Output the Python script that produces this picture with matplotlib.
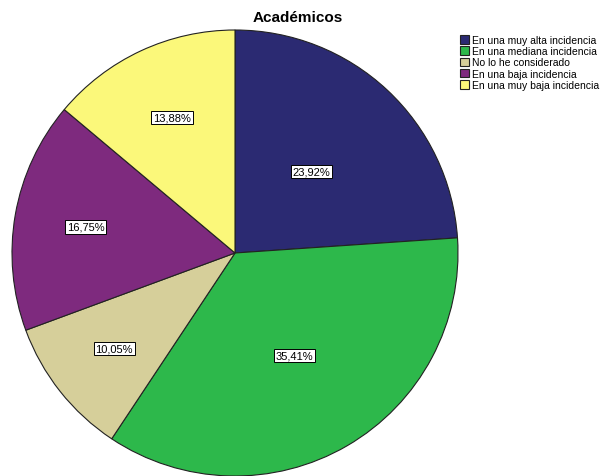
import numpy as np
import matplotlib.pyplot as plt

plt.rcParams['font.family'] = ['Liberation Sans', 'DejaVu Sans']

categorias = ['En una muy alta incidencia', 'En una mediana incidencia',
              'No lo he considerado', 'En una baja incidencia',
              'En una muy baja incidencia']
porcentajes = [23.92, 35.41, 10.05, 16.75, 13.88]
colores = ['#2b2a72', '#2db84b', '#d6cf9a', '#7e2a7e', '#fbf87a']
# distancia de cada etiqueta al centro (fraccion del radio)
dist_etiqueta = [0.50, 0.53, 0.69, 0.68, 0.67]

fig = plt.figure(figsize=(6.01, 4.77), dpi=100)
ax = fig.add_axes([0, 0, 1, 1])

cx, cy, r = 235, 477 - 254, 223
wedges, _ = ax.pie(porcentajes, colors=colores, startangle=90, counterclock=False,
                   center=(cx, cy), radius=r,
                   wedgeprops=dict(edgecolor='#222222', linewidth=0.8),
                   frame=True)

for w, p, d in zip(wedges, porcentajes, dist_etiqueta):
    ang = np.deg2rad((w.theta1 + w.theta2) / 2)
    ax.text(cx + d * r * np.cos(ang), cy + d * r * np.sin(ang),
            f'{p:.2f}'.replace('.', ',') + '%', fontsize=8, ha='center', va='center',
            bbox=dict(facecolor='white', edgecolor='black', linewidth=0.7, pad=1.2))

ax.set_xlim(0, 601)
ax.set_ylim(0, 477)
ax.set_aspect('equal')
ax.axis('off')

ax.text(298, 477 - 18, 'Académicos', fontsize=11, fontweight='bold', ha='center', va='center')

ax.legend(wedges, categorias, loc='upper left', bbox_to_anchor=(460 / 601, 1 - 36 / 477),
          frameon=False, fontsize=7.5, handlelength=0.85, handleheight=0.85,
          handletextpad=0.3, labelspacing=0.12, borderaxespad=0, borderpad=0)

fig.savefig('out.png', dpi=100)
